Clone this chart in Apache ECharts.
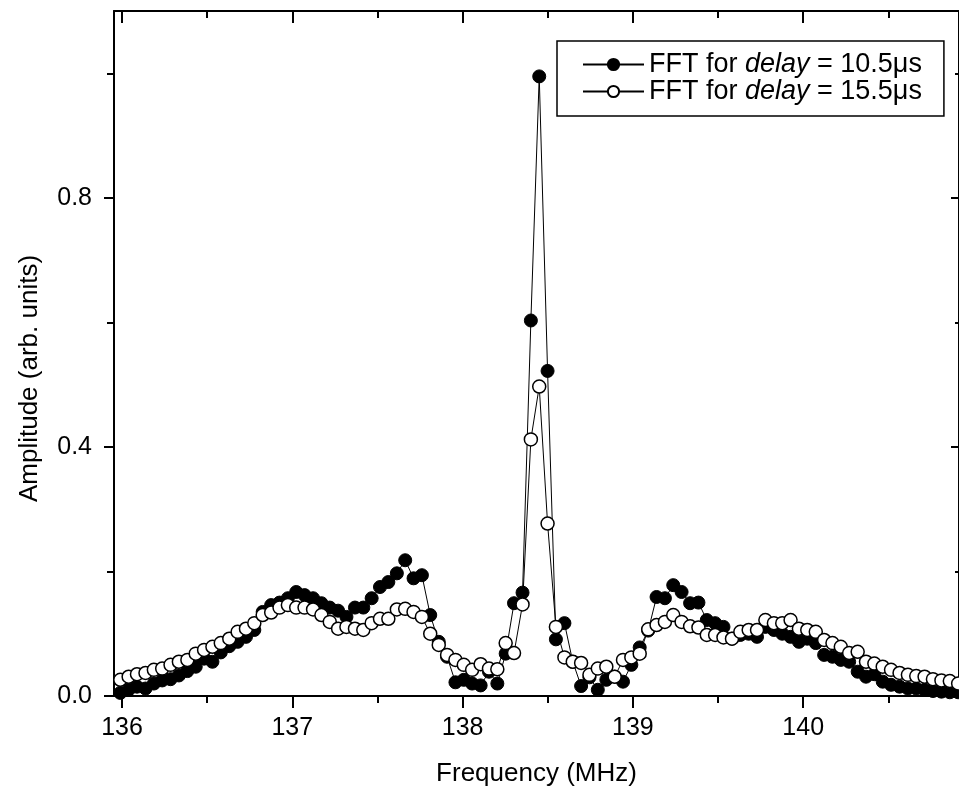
<!DOCTYPE html>
<html>
<head>
<meta charset="utf-8">
<script src="https://cdn.jsdelivr.net/npm/echarts@6.0.0/dist/echarts.min.js"></script>
<style>
html,body{margin:0;padding:0;background:#fff;}
#chart{width:959px;height:796px;}
</style>
</head>
<body>
<div id="chart"></div>
<script>
// Frequencies of the FFT bins (MHz)
const FREQ = [
135.990,136.039,136.088,136.138,136.187,136.236,136.285,136.334,136.384,136.433,
136.482,136.531,136.580,136.630,136.679,136.728,136.777,136.826,136.876,136.925,
136.974,137.023,137.072,137.122,137.171,137.220,137.269,137.318,137.368,137.417,
137.466,137.515,137.564,137.614,137.663,137.712,137.761,137.810,137.860,137.909,
137.958,138.007,138.056,138.106,138.155,138.204,138.253,138.302,138.352,138.401,
138.450,138.499,138.548,138.598,138.647,138.696,138.745,138.794,138.844,138.893,
138.942,138.991,139.040,139.090,139.139,139.188,139.237,139.286,139.336,139.385,
139.434,139.483,139.532,139.582,139.631,139.680,139.729,139.778,139.828,139.877,
139.926,139.975,140.024,140.074,140.123,140.172,140.221,140.270,140.320,140.369,
140.418,140.467,140.516,140.566,140.615,140.664,140.713,140.762,140.812,140.861,
140.910];

// FFT amplitude, delay = 10.5 us (filled circles)
const AMP_10_5 = [
0.005,0.010,0.015,0.012,0.020,0.025,0.027,0.033,0.040,0.047,
0.060,0.055,0.070,0.080,0.087,0.095,0.106,0.135,0.146,0.150,
0.157,0.167,0.162,0.157,0.149,0.142,0.137,0.127,0.142,0.142,
0.157,0.175,0.183,0.197,0.218,0.189,0.194,0.130,0.087,0.063,
0.022,0.026,0.020,0.017,0.039,0.020,0.068,0.149,0.166,0.603,
0.995,0.522,0.091,0.117,0.055,0.016,0.030,0.010,0.026,0.031,
0.023,0.050,0.078,0.105,0.159,0.157,0.178,0.167,0.149,0.150,
0.122,0.117,0.111,0.092,0.098,0.100,0.095,0.111,0.106,0.100,
0.095,0.087,0.092,0.085,0.066,0.063,0.058,0.055,0.039,0.031,
0.035,0.023,0.018,0.015,0.012,0.012,0.010,0.008,0.007,0.006,
0.006];

// FFT amplitude, delay = 15.5 us (open circles)
const AMP_15_5 = [
0.026,0.031,0.035,0.037,0.042,0.044,0.050,0.055,0.058,0.068,
0.074,0.079,0.085,0.092,0.103,0.108,0.117,0.130,0.134,0.142,
0.146,0.142,0.142,0.139,0.130,0.119,0.108,0.111,0.108,0.106,
0.117,0.124,0.124,0.139,0.140,0.135,0.127,0.100,0.082,0.066,
0.058,0.050,0.042,0.051,0.044,0.043,0.085,0.069,0.147,0.412,
0.497,0.277,0.111,0.062,0.055,0.053,0.034,0.044,0.047,0.031,
0.058,0.062,0.068,0.107,0.114,0.119,0.130,0.119,0.112,0.110,
0.098,0.098,0.094,0.092,0.103,0.106,0.106,0.122,0.117,0.117,
0.122,0.108,0.106,0.103,0.090,0.085,0.079,0.069,0.071,0.055,
0.052,0.047,0.042,0.037,0.034,0.032,0.031,0.027,0.025,0.024,
0.020];

const SERIES_NAMES = ['FFT for delay = 10.5\u03bcs', 'FFT for delay = 15.5\u03bcs'];
const X_MAJOR = [136, 137, 138, 139, 140];
const X_MINOR = [136.5, 137.5, 138.5, 139.5, 140.5];
const Y_MAJOR = [0.0, 0.4, 0.8];
const Y_MINOR = [0.2, 0.6, 1.0];
const X_LABELS = ['136', '137', '138', '139', '140'];
const Y_LABELS = ['0.0', '0.4', '0.8'];
const X_TITLE = 'Frequency (MHz)';
const Y_TITLE = 'Amplitude (arb. units)';

const XMIN = 135.953, XMAX = 140.915, YMIN = 0, YMAX = 1.1;
const FONT = 'Liberation Sans, Arial, sans-serif';
const FS_TICK = 25;
const FS_TITLE = 26;
const FS_LEGEND = 27;

function xAx(pos, ticks, len, inside, main) {
  return {
    type: 'value', position: pos, min: XMIN, max: XMAX,
    axisLine: { show: main, onZero: false, lineStyle: { color: '#000', width: 2 } },
    axisTick: { show: true, inside: inside, length: len, customValues: ticks, lineStyle: { color: '#000', width: 2 } },
    axisLabel: (pos === 'bottom' && main) ? {
      show: true, customValues: ticks, margin: 20, color: '#000', fontSize: FS_TICK, fontFamily: FONT,
      formatter: v => X_LABELS[X_MAJOR.indexOf(Math.round(v * 10) / 10)] || ''
    } : { show: false },
    splitLine: { show: false },
    name: (pos === 'bottom' && main) ? X_TITLE : '',
    nameLocation: 'middle', nameGap: 65,
    nameTextStyle: { color: '#000', fontSize: FS_TITLE, fontFamily: FONT }
  };
}
function yAx(pos, ticks, len, inside, main) {
  return {
    type: 'value', position: pos, min: YMIN, max: YMAX,
    axisLine: { show: main, onZero: false, lineStyle: { color: '#000', width: 2 } },
    axisTick: { show: true, inside: inside, length: len, customValues: ticks, lineStyle: { color: '#000', width: 2 } },
    axisLabel: (pos === 'left' && main) ? {
      show: true, customValues: ticks, margin: 22, color: '#000', fontSize: FS_TICK, fontFamily: FONT,
      formatter: v => Y_LABELS[Y_MAJOR.indexOf(Math.round(v * 10) / 10)] || ''
    } : { show: false },
    splitLine: { show: false },
    name: (pos === 'left' && main) ? Y_TITLE : '',
    nameLocation: 'middle', nameGap: 71,
    nameTextStyle: { color: '#000', fontSize: FS_TITLE, fontFamily: FONT, padding: [0, 50, 0, 0] }
  };
}

const chart = echarts.init(document.getElementById('chart'), null, { renderer: 'canvas' });
chart.setOption({
  animation: false,
  backgroundColor: '#fff',
  grid: { left: 114, top: 11, width: 847, height: 685, containLabel: false },
  xAxis: [
    xAx('bottom', X_MAJOR, 12, false, true),
    xAx('bottom', X_MINOR, 7, false, false),
    xAx('top', X_MAJOR, 12, true, true),
    xAx('top', X_MINOR, 7, true, false)
  ],
  yAxis: [
    yAx('left', Y_MAJOR, 10, false, true),
    yAx('left', Y_MINOR, 7, false, false),
    yAx('right', Y_MAJOR, 8, true, true),
    yAx('right', Y_MINOR, 4, true, false)
  ],
  legend: {
    orient: 'vertical', left: 557, top: 41,
    padding: [10, 22, 11, 25], itemGap: 0,
    itemWidth: 61, itemHeight: 14,
    borderColor: '#000', borderWidth: 1.5, backgroundColor: '#fff',
    data: SERIES_NAMES,
    formatter: n => n.replace('delay', '{i|delay}'),
    textStyle: { color: '#000', fontSize: FS_LEGEND, fontFamily: FONT, lineHeight: 27,
      rich: { i: { fontStyle: 'italic', fontSize: FS_LEGEND, fontFamily: FONT, color: '#000', lineHeight: 27 } } },
    selectedMode: false
  },
  series: [
    {
      name: SERIES_NAMES[0], type: 'line', xAxisIndex: 0, yAxisIndex: 0,
      data: FREQ.map((f, i) => [f, AMP_10_5[i]]),
      symbol: 'circle', symbolSize: 13, showAllSymbol: true, clip: false,
      itemStyle: { color: '#000', borderColor: '#000', borderWidth: 1 },
      lineStyle: { color: '#000', width: 1 },
      emphasis: { disabled: true }, z: 2
    },
    {
      name: SERIES_NAMES[1], type: 'line', xAxisIndex: 0, yAxisIndex: 0,
      data: FREQ.map((f, i) => [f, AMP_15_5[i]]),
      symbol: 'circle', symbolSize: 13, showAllSymbol: true, clip: false,
      itemStyle: { color: '#fff', borderColor: '#000', borderWidth: 1.5 },
      lineStyle: { color: '#000', width: 1 },
      emphasis: { disabled: true }, z: 3
    }
  ]
});
</script>
</body>
</html>
